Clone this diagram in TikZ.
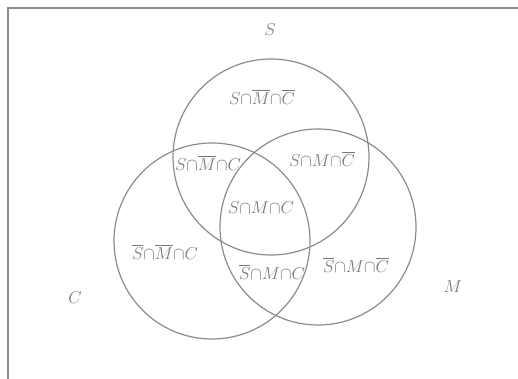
\documentclass[tikz,border=0pt]{standalone}
\usepackage{amsmath}
\usepackage{tikz}
\usetikzlibrary{shapes,positioning,calc}

\begin{document}
\begin{tikzpicture}[x=1pt, y=-1pt,
        set/.style={circle, draw=gray!90, line width=1.2pt, minimum size=196pt, inner sep=0pt},
        region/.style={text=gray!95!black, font=\fontsize{17.5}{20}\selectfont, inner sep=0pt},
        setname/.style={text=gray!95!black, font=\fontsize{18}{21}\selectfont, inner sep=0pt}]

        \useasboundingbox (0,0) rectangle (518,379);
        \draw[gray!90, line width=1.2pt] (8,379) -- (8,8) -- (518,8);

        \node[set] (setS) at (271,157) {};
        \node[set] (setC) at (212,241) {};
        \node[set] (setM) at (318,227) {};

        \node[setname] (nameS) at (270,30) {$S$};
        \node[setname] (nameC) at (75,298) {$C$};
        \node[setname] (nameM) at (453,287) {$M$};

        \node[region] (sOnly) at (262,97) {$S{\cap}\overline{M}{\cap}\overline{C}$};
        \node[region] (sc) at (208,163) {$S{\cap}\overline{M}{\cap}C$};
        \node[region] (sm) at (322,159) {$S{\cap}M{\cap}\overline{C}$};
        \node[region] (smc) at (261,208) {$S{\cap}M{\cap}C$};
        \node[region] (cOnly) at (165,252) {$\overline{S}{\cap}\overline{M}{\cap}C$};
        \node[region] (mc) at (272,272) {$\overline{S}{\cap}M{\cap}C$};
        \node[region] (mOnly) at (356,265) {$\overline{S}{\cap}M{\cap}\overline{C}$};
    \end{tikzpicture}
\end{document}
